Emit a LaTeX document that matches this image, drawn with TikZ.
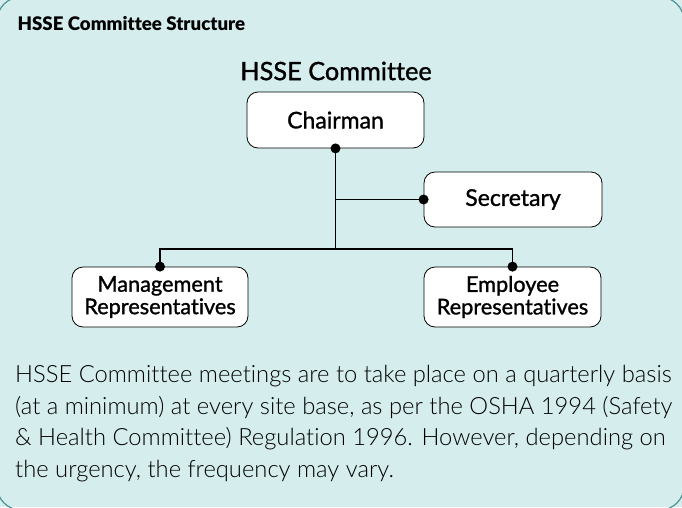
\documentclass[tikz,border=0pt]{standalone}
\usepackage{fontspec}
\setmainfont{Lato}[Ligatures=NoCommon]
\newfontfamily\medfont{Lato}[Ligatures=NoCommon,FakeBold=1.2]
\newfontfamily\lightfont{Lato Light}[Ligatures=NoCommon]
\newfontfamily\heavyfont{Lato Black}[Ligatures=NoCommon]
\definecolor{panel}{HTML}{D5EDED}
\definecolor{rim}{HTML}{4E9496}
\begin{document}
\begin{tikzpicture}[x=1pt,y=-1pt,
  orgbox/.style={draw=black, line width=0.8pt, fill=white, rounded corners=11pt,
    inner sep=0pt, align=center, font=\medfont\fontsize{23}{22}\selectfont},
  twoline/.style={font=\medfont\fontsize{21.7}{22.5}\selectfont},
  wire/.style={draw=black, line width=1.2pt},
  dotmark/.style={fill=black}]
\useasboundingbox (0,0) rectangle (682,507);
\fill[panel] (0,0) rectangle (682,507);
\begin{scope}
\clip (0,0) rectangle (682,507);
\draw[rim, line width=1.2pt, rounded corners=24pt] (-3,-3) rectangle (684,510);
\end{scope}
\node[anchor=west, font=\heavyfont\fontsize{18.7}{21}\selectfont] (title) at (14,24) {HSSE Committee Structure};
\node[font=\medfont\fontsize{25.3}{26}\selectfont] (comm) at (336,71) {HSSE Committee};
\node[orgbox, minimum width=177pt, minimum height=56pt] (chair) at (335.5,120) {Chairman};
\node[orgbox, minimum width=178pt, minimum height=55pt] (sec) at (513,199.5) {Secretary};
\node[orgbox, twoline, minimum width=176pt, minimum height=60pt] (mgmt) at (160,297) {Management\\Representatives};
\node[orgbox, twoline, minimum width=177pt, minimum height=60pt] (emp) at (512.5,297) {Employee\\Representatives};
\coordinate (j) at (chair.south |- 0,249);
\coordinate (js) at (chair.south |- sec.west);
\draw[wire] (chair.south) -- (j);
\draw[wire] (js) -- (sec.west);
\draw[wire] (mgmt.north) -- (mgmt.north |- j) -- (emp.north |- j) -- (emp.north);
\foreach \p in {chair.south, sec.west, mgmt.north, emp.north}
  \fill[dotmark] (\p) circle (5pt);
\node[anchor=north west, align=left, inner sep=0pt,
  font=\lightfont\fontsize{23.75}{31.7}\selectfont] (para) at (15,365)
  {HSSE Committee meetings are to take place on a quarterly basis\\
   (at a minimum) at every site base, as per the OSHA 1994 (Safety\\
   \& Health Committee) Regulation 1996. However, depending on\\
   the urgency, the frequency may vary.};
\end{tikzpicture}
\end{document}
